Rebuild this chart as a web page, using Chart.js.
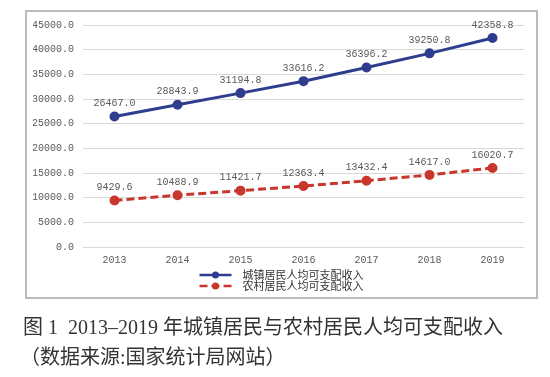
<!DOCTYPE html>
<html>
<head>
<meta charset="utf-8">
<script src="https://cdn.jsdelivr.net/npm/chart.js@4/dist/chart.umd.min.js"></script>
<style>
  html, body { margin: 0; padding: 0; background: #ffffff; width: 550px; height: 377px; overflow: hidden; }
  #box { position: absolute; left: 25px; top: 10px; width: 513px; height: 289px; }
  #border { position: absolute; left: 25px; top: 10px; width: 509px; height: 285px; border: 2px solid #bcbcbc; pointer-events: none; }
  .cap { position: absolute; left: 23px; font-family: "Liberation Serif", "Noto Sans CJK SC", serif; font-size: 20px; color: #333333; white-space: nowrap; }
</style>
</head>
<body>
<div id="box"><canvas id="c"></canvas></div>
<div id="border"></div>
<div class="cap" style="top:311px;">图 1&nbsp; 2013–2019 年城镇居民与农村居民人均可支配收入</div>
<div class="cap" style="top:341px; left:20px;">（数据来源:国家统计局网站）</div>
<script>
const categories = ['2013', '2014', '2015', '2016', '2017', '2018', '2019'];
const urbanIncome = [26467.0, 28843.9, 31194.8, 33616.2, 36396.2, 39250.8, 42358.8];
const ruralIncome = [9429.6, 10488.9, 11421.7, 12363.4, 13432.4, 14617.0, 16020.7];
const seriesNames = ['城镇居民人均可支配收入', '农村居民人均可支配收入'];
const yMin = 0, yMax = 45000, yStep = 5000;

const numFont = '10px "Liberation Mono", "DejaVu Sans Mono", monospace';

const dataLabels = {
  id: 'dataLabels',
  afterDatasetsDraw(chart) {
    const ctx = chart.ctx;
    ctx.save();
    ctx.font = numFont;
    ctx.fillStyle = '#595959';
    ctx.textAlign = 'center';
    ctx.textBaseline = 'bottom';
    chart.data.datasets.forEach((ds, i) => {
      const meta = chart.getDatasetMeta(i);
      meta.data.forEach((el, j) => {
        ctx.fillText(ds.data[j].toFixed(1), el.x, el.y - 8);
      });
    });
    ctx.restore();
  }
};

const customLegend = {
  id: 'customLegend',
  afterDraw(chart) {
    const ctx = chart.ctx;
    ctx.save();
    ctx.font = '11px "Noto Sans CJK SC", sans-serif';
    const lineLen = 32, gap = 11;
    const textW = Math.max(...chart.data.datasets.map(d => ctx.measureText(d.label).width));
    const total = lineLen + gap + textW;
    const x0 = chart.width / 2 - total / 2;
    const yBase = chart.scales.x.bottom + 6;
    chart.data.datasets.forEach((ds, i) => {
      const y = yBase + i * 11;
      ctx.strokeStyle = ds.borderColor;
      ctx.lineWidth = 2.5;
      ctx.setLineDash(ds.borderDash || []);
      ctx.beginPath();
      ctx.moveTo(x0, y);
      ctx.lineTo(x0 + lineLen, y);
      ctx.stroke();
      ctx.setLineDash([]);
      ctx.fillStyle = ds.pointBackgroundColor;
      ctx.beginPath();
      ctx.arc(x0 + lineLen / 2, y, 3.5, 0, Math.PI * 2);
      ctx.fill();
      ctx.fillStyle = '#333333';
      ctx.textAlign = 'left';
      ctx.textBaseline = 'middle';
      ctx.fillText(ds.label, x0 + lineLen + gap, y);
    });
    ctx.restore();
  }
};

new Chart(document.getElementById('c'), {
  type: 'line',
  data: {
    labels: categories,
    datasets: [
      {
        label: seriesNames[0],
        data: urbanIncome,
        borderColor: '#2f3d8e',
        backgroundColor: '#2f3d8e',
        pointBackgroundColor: '#2f3d8e',
        pointBorderColor: '#2f3d8e',
        borderWidth: 3,
        pointRadius: 3.5,
        tension: 0,
        fill: false
      },
      {
        label: seriesNames[1],
        data: ruralIncome,
        borderColor: '#c9372c',
        backgroundColor: '#c9372c',
        pointBackgroundColor: '#c9372c',
        pointBorderColor: '#c9372c',
        borderWidth: 3,
        borderDash: [8, 4],
        pointRadius: 3.5,
        tension: 0,
        fill: false
      }
    ]
  },
  options: {
    responsive: true,
    maintainAspectRatio: false,
    animation: false,
    layout: { padding: { left: 8, right: 14, top: 14, bottom: 30 } },
    plugins: { legend: { display: false }, tooltip: { enabled: false } },
    scales: {
      x: {
        offset: true,
        grid: { display: false, drawTicks: false },
        border: { display: false },
        ticks: { font: { family: '"Liberation Mono", "DejaVu Sans Mono", monospace', size: 10 }, color: '#595959', padding: 7, maxRotation: 0 },
        afterFit(s) { s.height = 22; }
      },
      y: {
        min: yMin,
        max: yMax,
        grid: { color: '#d9d9d9', lineWidth: 1, drawTicks: false },
        border: { display: false },
        ticks: {
          stepSize: yStep,
          font: { family: '"Liberation Mono", "DejaVu Sans Mono", monospace', size: 10 },
          color: '#595959',
          padding: 9,
          callback: v => Number(v).toFixed(1)
        },
        afterFit(s) { s.width = 50; }
      }
    }
  },
  plugins: [dataLabels, customLegend]
});
</script>
</body>
</html>
